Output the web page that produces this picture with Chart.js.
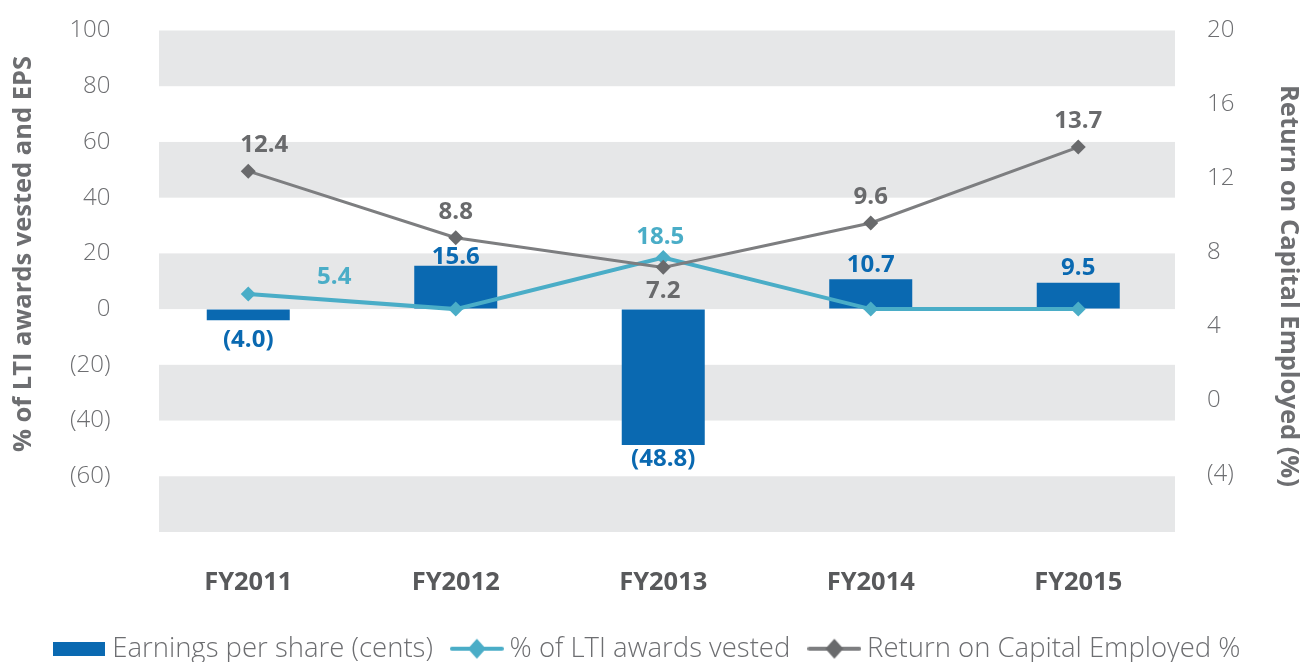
<!DOCTYPE html>
<html>
<head>
<meta charset="utf-8">
<script src="https://cdn.jsdelivr.net/npm/chart.js@4.4.1/dist/chart.umd.min.js"></script>
<style>
html,body{margin:0;padding:0;background:#fff;}
#wrap{width:1301px;height:662px;position:relative;}
</style>
</head>
<body>
<div id="wrap"><canvas id="c"></canvas></div>
<script>
// ---- data ----
const categories = ['FY2011', 'FY2012', 'FY2013', 'FY2014', 'FY2015'];
const epsValues  = [-4.0, 15.6, -48.8, 10.7, 9.5];
const ltiValues  = [5.4, 0, 18.5, 0, 0];
const roceValues = [12.4, 8.8, 7.2, 9.6, 13.7];
const leftTicks  = [100, 80, 60, 40, 20, 0, -20, -40, -60];
const rightTicks = [20, 16, 12, 8, 4, 0, -4];
const seriesNames = ['Earnings per share (cents)', '% of LTI awards vested', 'Return on Capital Employed %'];
const leftTitle  = '% of LTI awards vested and EPS';
const rightTitle = 'Return on Capital Employed (%)';

// ---- styles ----
const C_BAR = '#0a69b1', C_LTI = '#4aadc7', C_ROCE_LINE = '#7d7e80', C_ROCE_PT = '#696a6c';
const C_TEXT = '#6d6e71', C_BAND = '#e6e7e8';
const FAMILY = '"Open Sans", "DejaVu Sans", sans-serif';

function fmtAxis(v) { return v < 0 ? '(' + Math.abs(v) + ')' : String(v); }
function fmtVal(v) { return v < 0 ? '(' + Math.abs(v).toFixed(1) + ')' : v.toFixed(1); }

function legendImg(kind, color, ptColor) {
  const c = document.createElement('canvas');
  const g = c.getContext('2d');
  if (kind === 'bar') {
    c.width = 52; c.height = 14;
    g.fillStyle = color; g.fillRect(0, 0, 52, 14);
  } else {
    c.width = 54; c.height = 22;
    g.strokeStyle = color; g.lineWidth = 4; g.lineCap = 'round';
    g.beginPath(); g.moveTo(2, 11); g.lineTo(52, 11); g.stroke();
    g.fillStyle = ptColor;
    g.beginPath(); g.moveTo(27, 1); g.lineTo(36, 11); g.lineTo(27, 21); g.lineTo(18, 11); g.closePath(); g.fill();
  }
  return c;
}
const legendImgs = [legendImg('bar', C_BAR), legendImg('line', C_LTI, C_LTI), legendImg('line', C_ROCE_LINE, C_ROCE_PT)];

const bandPlugin = {
  id: 'bands',
  beforeDatasetsDraw(chart, args, o) {
    const {ctx, chartArea} = chart;
    const y = chart.scales.y;
    ctx.save();
    ctx.fillStyle = o.color;
    const l = chartArea.left + o.insetLeft, r = chartArea.right - o.insetRight;
    for (let v = y.max; v > y.min; v -= 40) {
      const t = y.getPixelForValue(v), b = y.getPixelForValue(v - 20);
      ctx.fillRect(l, t, r - l, b - t);
    }
    ctx.restore();
  }
};

const titlePlugin = {
  id: 'axisTitles',
  afterDraw(chart, args, o) {
    const ctx = chart.ctx;
    ctx.save();
    ctx.font = 'bold 25.5px ' + FAMILY;
    ctx.fillStyle = o.color;
    ctx.textAlign = 'center';
    ctx.textBaseline = 'middle';
    ctx.save(); ctx.translate(o.left.x, o.left.y); ctx.rotate(-Math.PI / 2); ctx.fillText(leftTitle, 0, 0); ctx.restore();
    ctx.save(); ctx.translate(o.right.x, o.right.y); ctx.rotate(Math.PI / 2); ctx.fillText(rightTitle, 0, 0); ctx.restore();
    ctx.restore();
  }
};

const labelPlugin = {
  id: 'valueLabels',
  afterDatasetsDraw(chart, args, o) {
    const ctx = chart.ctx;
    ctx.save();
    ctx.font = 'bold 24px ' + FAMILY;
    ctx.textAlign = 'center';
    ctx.textBaseline = 'middle';
    o.sets.forEach(s => {
      const meta = chart.getDatasetMeta(s.dataset);
      const vals = chart.data.datasets[s.dataset].data;
      ctx.fillStyle = s.color;
      meta.data.forEach((el, i) => {
        if (s.skipZero && vals[i] === 0) return;
        const off = s.offsets[i];
        ctx.fillText(fmtVal(vals[i]), el.x + off[0], el.y + off[1]);
      });
    });
    ctx.restore();
  }
};

const tickFont = {family: FAMILY, size: 24, weight: '300'};
// invisible tick marks used only to offset the labels from the plot area
const hiddenGrid = len => ({display: true, drawOnChartArea: false, drawTicks: true, tickLength: len, color: 'rgba(0,0,0,0)'});

new Chart(document.getElementById('c'), {
  type: 'bar',
  data: {
    labels: categories,
    datasets: [
      {
        label: seriesNames[0], data: epsValues, yAxisID: 'y', backgroundColor: C_BAR,
        barPercentage: 0.4, categoryPercentage: 1.0, order: 3
      },
      {
        type: 'line', label: seriesNames[1], data: ltiValues, yAxisID: 'y',
        borderColor: C_LTI, backgroundColor: C_LTI, borderWidth: 4, tension: 0,
        pointStyle: 'rectRot', pointRadius: 7.5, pointBorderWidth: 0, pointBackgroundColor: C_LTI, order: 2
      },
      {
        type: 'line', label: seriesNames[2], data: roceValues, yAxisID: 'y1',
        borderColor: C_ROCE_LINE, backgroundColor: C_ROCE_PT, borderWidth: 3, tension: 0,
        pointStyle: 'rectRot', pointRadius: 7.5, pointBorderWidth: 0, pointBackgroundColor: C_ROCE_PT, order: 1
      }
    ]
  },
  options: {
    responsive: true,
    maintainAspectRatio: false,
    animation: false,
    events: [],
    layout: {padding: {top: 30.5, left: 0, right: 0, bottom: 0}},
    scales: {
      x: {
        grid: {display: false, drawTicks: false},
        border: {display: false},
        ticks: {color: '#58595b', font: {family: FAMILY, size: 25.5, weight: 'bold'}, padding: 35, maxRotation: 0, autoSkip: false},
        afterFit(s) { s.height = 78; }
      },
      y: {
        position: 'left', min: -80, max: 100,
        grid: hiddenGrid(34),
        border: {display: false},
        afterBuildTicks(s) { s.ticks = leftTicks.map(v => ({value: v})); },
        ticks: {color: C_TEXT, font: tickFont, padding: 0, callback: v => fmtAxis(v)},
        afterFit(s) { s.width = 144.5; }
      },
      y1: {
        position: 'right', min: -7.1, max: 20,
        grid: hiddenGrid(25),
        border: {display: false},
        afterBuildTicks(s) { s.ticks = rightTicks.map(v => ({value: v})); },
        ticks: {color: C_TEXT, font: tickFont, padding: 0, callback: v => fmtAxis(v)},
        afterFit(s) { s.width = 119; }
      }
    },
    plugins: {
      tooltip: {enabled: false},
      legend: {
        position: 'bottom',
        maxHeight: 52,
        labels: {
          usePointStyle: true,
          pointStyleWidth: 38,
          padding: 25,
          color: C_TEXT,
          font: {family: FAMILY, size: 27.5, weight: '300'},
          sort: (a, b) => a.datasetIndex - b.datasetIndex,
          generateLabels(chart) {
            const items = Chart.defaults.plugins.legend.labels.generateLabels(chart);
            items.forEach(it => { it.pointStyle = legendImgs[it.datasetIndex]; });
            return items;
          }
        }
      },
      bands: {color: C_BAND, insetLeft: 14.5, insetRight: 7},
      axisTitles: {color: C_TEXT, left: {x: 24, y: 254}, right: {x: 1288, y: 286}},
      valueLabels: {
        sets: [
          {dataset: 0, color: C_BAR, offsets: [[0, 20], [0, -8], [0, 14], [0, -14], [0, -14]]},
          {dataset: 1, color: C_LTI, skipZero: true, offsets: [[86, -17], [0, 0], [-3, -20], [0, 0], [0, 0]]},
          {dataset: 2, color: C_ROCE_PT, offsets: [[16, -26], [0, -26], [0, 24], [0, -26], [0, -26]]}
        ]
      }
    }
  },
  plugins: [bandPlugin, titlePlugin, labelPlugin]
});
</script>
</body>
</html>
